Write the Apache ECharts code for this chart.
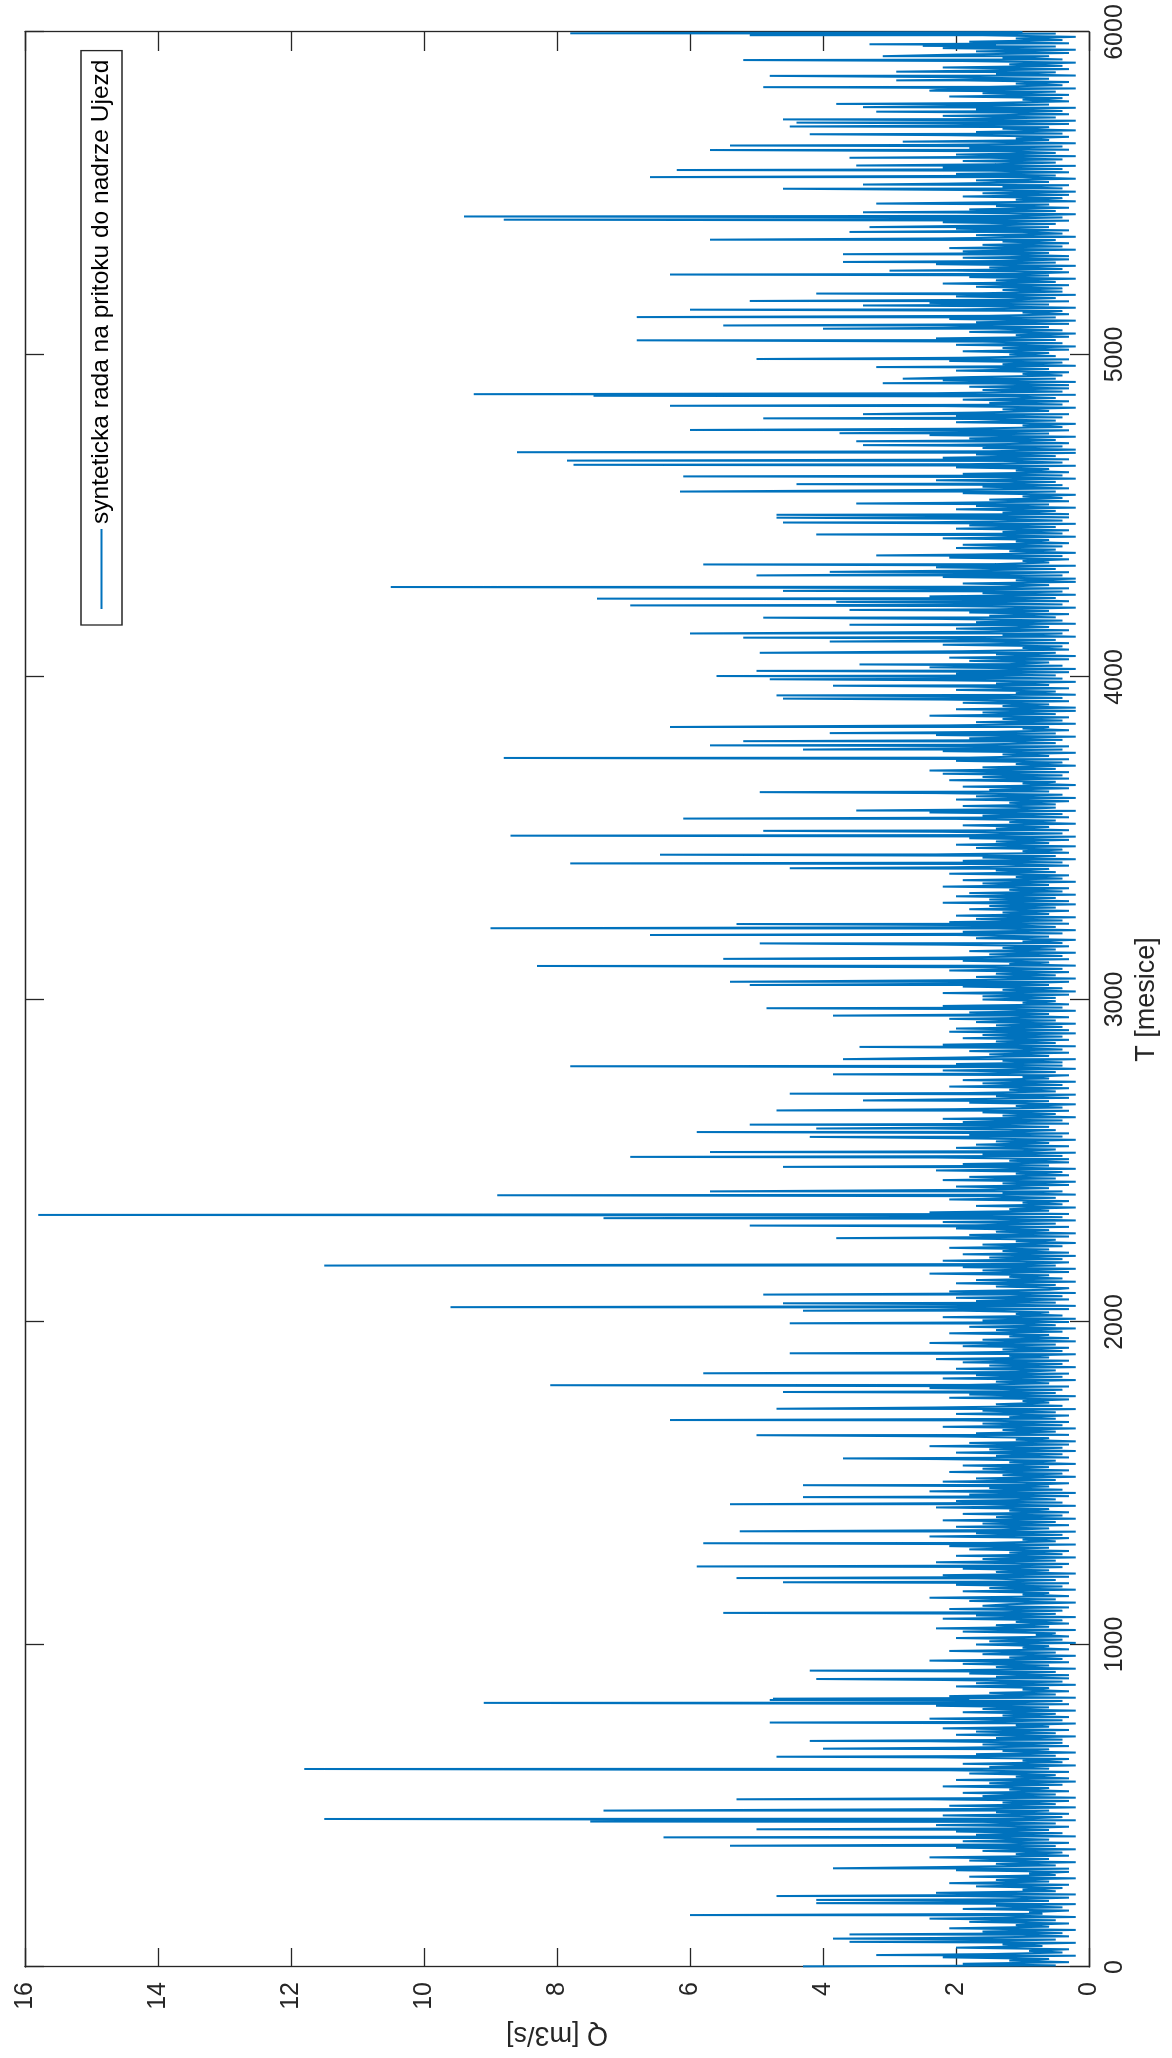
<!DOCTYPE html>
<html>
<head>
<meta charset="utf-8">
<script src="https://cdn.jsdelivr.net/npm/echarts@6/dist/echarts.min.js"></script>
<style>
  html, body { margin: 0; padding: 0; background: #fff; overflow: hidden; }
  body { width: 1172px; height: 2058px; position: relative; }
  /* the figure is laid out landscape and turned a quarter turn counter-clockwise */
  #chart {
    position: absolute; left: 0; top: 0;
    width: 2058px; height: 1172px;
    transform-origin: 0 0;
    transform: translate(0, 2058px) rotate(-90deg);
  }
</style>
</head>
<body>
<div id="chart"></div>
<script>
// Axis ticks
const tTicks = [0, 1000, 2000, 3000, 4000, 5000, 6000];
const qTicks = [0, 2, 4, 6, 8, 10, 12, 14, 16];

// Month step of the background flow record
const baseStep = 5;

// Background monthly flow Q [m3/s], one row per 100 months (every 5th month)
const baseFlow = [
  0.5,1.9,0.3,1.2,0.6,2.2,0.2,1.5,0.4,0.9,0.3,2.0,0.7,1.3,0.2,1.7,0.5,2.3,0.3,1.0,
  0.4,1.6,0.2,2.1,0.6,1.1,0.3,1.8,0.5,2.4,0.2,1.3,0.7,0.9,0.3,1.9,0.4,1.4,0.2,2.2,
  0.6,1.2,0.3,1.9,0.2,2.3,0.5,1.0,0.4,1.7,0.3,2.1,0.6,1.4,0.2,1.8,0.5,0.9,0.3,2.0,
  0.3,2.2,0.5,1.4,0.2,1.8,0.6,2.4,0.3,1.1,0.4,1.6,0.2,2.0,0.5,1.3,0.3,1.9,0.6,1.5,
  0.2,1.7,0.4,2.0,0.6,1.2,0.3,2.3,0.5,1.6,0.2,1.0,0.4,2.2,0.3,1.4,0.6,1.8,0.2,2.1,
  0.5,1.3,0.3,2.4,0.2,1.6,0.5,1.9,0.3,1.2,0.6,2.2,0.4,1.5,0.2,2.0,0.3,1.1,0.5,1.8,
  0.3,2.1,0.6,1.5,0.2,1.9,0.4,1.0,0.3,2.3,0.5,1.7,0.2,1.3,0.6,2.0,0.3,1.6,0.4,2.4,
  0.4,1.4,0.2,2.0,0.5,1.7,0.3,2.2,0.6,1.1,0.2,1.8,0.4,2.4,0.3,1.3,0.5,1.9,0.2,1.6,
  0.6,2.3,0.3,1.2,0.4,1.8,0.2,2.1,0.5,1.5,0.3,1.0,0.6,2.0,0.2,1.7,0.4,2.2,0.3,1.4,
  0.3,1.8,0.5,2.2,0.2,1.4,0.6,1.9,0.3,2.4,0.4,1.2,0.2,1.6,0.5,2.1,0.3,1.0,0.6,1.7,
  0.2,1.5,0.4,2.0,0.3,0.8,0.5,1.9,0.2,2.3,0.6,1.4,0.3,1.1,0.4,2.2,0.2,1.7,0.5,1.3,
  0.4,2.1,0.3,1.6,1.2,0.2,1.8,0.5,2.4,0.3,1.0,0.6,1.9,0.2,1.5,0.4,2.0,0.3,1.3,0.5,
  1.7,0.3,2.2,0.2,1.4,0.6,1.9,0.4,1.1,0.3,2.3,0.5,1.6,0.2,2.0,0.4,1.2,0.3,1.8,0.6,
  2.1,0.2,1.5,0.5,1.0,0.3,2.4,0.4,1.7,0.2,1.3,0.6,2.0,0.3,1.6,0.5,2.2,0.2,1.4,0.4,
  1.9,0.3,1.2,0.6,2.3,0.2,1.6,0.4,2.0,0.5,1.1,0.3,1.8,0.2,2.4,0.4,1.5,0.6,1.0,0.3,
  2.2,0.5,1.7,0.2,1.3,0.4,2.1,0.3,1.6,0.6,1.9,0.2,1.2,0.5,2.3,0.3,1.4,0.4,2.0,0.2,
  1.5,0.4,2.4,0.3,1.8,0.2,1.1,0.6,2.0,0.3,1.7,0.5,1.3,0.2,2.2,0.4,1.6,0.3,1.9,0.5,
  1.2,0.3,2.0,0.5,1.6,0.2,2.3,0.4,1.4,0.6,1.0,0.3,2.1,0.2,1.8,0.5,1.3,0.4,2.4,0.3,
  1.8,0.6,1.4,0.2,2.2,0.4,1.7,0.3,1.1,0.5,2.0,0.2,1.5,0.4,1.9,0.3,2.3,0.6,1.2,0.2,
  2.0,0.4,1.3,0.3,1.9,0.5,2.4,0.2,1.6,0.3,1.2,0.6,2.1,0.4,1.4,0.2,1.8,0.5,1.0,0.3,
  1.6,0.2,2.2,0.4,1.1,0.6,1.9,0.3,2.3,0.2,1.5,0.5,1.7,0.3,2.0,0.4,1.2,0.2,2.1,0.6,
  0.3,1.4,0.5,2.0,0.2,1.7,0.4,1.2,0.6,2.4,0.3,1.6,0.2,1.9,0.5,1.0,0.3,2.2,0.4,1.5,
  0.2,1.9,0.3,1.3,0.6,2.1,0.4,1.6,0.2,1.1,0.5,2.3,0.3,1.8,0.2,1.4,0.6,2.0,0.3,1.7,
  0.5,2.2,0.2,1.5,0.4,1.9,0.3,2.4,0.6,1.2,0.2,1.7,0.4,1.0,0.3,2.1,0.5,1.6,0.2,1.3,
  0.4,1.7,0.6,2.0,0.3,1.3,0.2,2.2,0.5,1.8,0.3,1.1,0.4,2.3,0.2,1.5,0.6,1.9,0.3,1.2,
  0.3,2.3,0.4,1.6,0.2,1.0,0.5,2.0,0.3,1.7,0.6,1.4,0.2,2.1,0.4,1.8,0.3,1.2,0.5,2.4,
  0.6,1.5,0.3,1.9,0.4,2.2,0.2,1.3,0.5,1.6,0.3,2.0,0.4,1.1,0.2,1.8,0.6,2.3,0.3,1.4,
  0.2,1.8,0.5,1.2,0.3,2.1,0.4,1.6,0.2,1.9,0.6,1.0,0.3,1.7,0.5,2.2,0.2,1.3,0.4,2.0,
  0.4,1.3,0.2,2.0,0.6,1.5,0.3,1.8,0.4,1.1,0.2,2.2,0.5,1.4,0.3,1.9,0.4,1.6,0.2,2.1,
  0.3,2.0,0.4,1.4,0.2,1.7,0.5,2.1,0.3,1.2,0.6,1.8,0.2,1.5,0.4,2.2,0.3,1.0,0.5,1.6,
  0.5,1.6,0.3,2.2,0.2,1.3,0.4,1.9,0.6,1.1,0.3,2.0,0.2,1.7,0.5,1.4,0.3,2.1,0.4,1.8,
  0.2,1.2,0.6,1.9,0.3,2.1,0.4,1.5,0.2,1.8,0.5,1.3,0.3,2.2,0.4,1.0,0.2,1.7,0.6,2.0,
  0.4,1.9,0.2,1.4,0.5,1.1,0.3,2.1,0.4,1.7,0.2,2.0,0.6,1.3,0.3,1.8,0.5,1.5,0.2,2.2,
  0.3,1.5,0.5,2.0,0.2,1.8,0.4,1.2,0.3,2.2,0.6,1.6,0.2,1.9,0.4,1.1,0.3,2.1,0.5,1.4,
  0.6,2.1,0.3,1.3,0.4,1.9,0.2,1.6,0.5,2.3,0.3,1.0,0.4,1.7,0.2,2.0,0.6,1.4,0.3,1.8,
  0.2,1.7,0.4,2.2,0.3,1.4,0.6,1.9,0.2,1.2,0.5,2.0,0.3,1.6,0.4,2.4,0.2,1.1,0.5,1.9,
  0.5,1.2,0.3,2.0,0.2,1.7,0.4,2.3,0.6,1.5,0.3,1.9,0.2,1.0,0.5,2.1,0.3,1.6,0.4,2.2,
  0.3,2.4,0.5,1.6,0.2,1.1,0.4,2.0,0.3,1.8,0.6,1.3,0.2,2.2,0.4,1.5,0.3,1.9,0.5,1.2,
  0.4,1.8,0.2,2.3,0.5,1.4,0.3,1.0,0.6,2.1,0.2,1.7,0.4,1.3,0.3,2.4,0.5,1.6,0.2,2.0,
  0.2,1.3,0.6,1.9,0.3,2.2,0.4,1.6,0.2,1.1,0.5,2.0,0.3,1.8,0.6,1.4,0.2,2.3,0.4,1.7,
  0.5,2.0,0.3,1.5,0.2,2.4,0.4,1.2,0.6,1.8,0.3,2.1,0.2,1.4,0.5,1.9,0.3,1.0,0.4,2.2,
  0.3,1.6,0.5,2.3,0.2,1.3,0.4,1.9,0.3,2.0,0.6,1.1,0.2,1.7,0.4,2.2,0.5,1.5,0.3,1.8,
  0.6,1.4,0.2,2.1,0.4,1.7,0.3,1.2,0.5,2.4,0.2,1.6,0.4,2.0,0.3,1.3,0.6,1.9,0.2,1.1,
  0.2,2.2,0.4,1.5,0.3,1.9,0.5,2.3,0.2,1.4,0.6,1.0,0.3,2.1,0.4,1.7,0.2,1.2,0.5,2.0,
  0.4,1.9,0.3,1.1,0.6,2.2,0.2,1.6,0.4,1.3,0.3,2.0,0.5,1.8,0.2,2.4,0.4,1.4,0.3,1.7,
  0.3,1.3,0.5,2.0,0.2,1.7,0.6,2.2,0.3,1.5,0.4,1.0,0.2,1.9,0.5,2.3,0.3,1.6,0.4,1.2,
  0.5,2.3,0.2,1.4,0.4,1.9,0.3,1.1,0.6,2.0,0.2,1.8,0.4,1.3,0.3,2.2,0.5,1.7,0.2,1.5,
  0.2,1.6,0.4,2.1,0.3,1.2,0.5,1.8,0.2,2.4,0.6,1.4,0.3,1.9,0.4,1.0,0.2,2.0,0.5,1.7,
  0.4,2.0,0.3,1.7,0.6,1.3,0.2,2.2,0.4,1.5,0.3,1.9,0.5,1.1,0.2,2.3,0.4,1.6,0.3,1.8,
  0.3,1.4,0.2,2.2,0.5,1.8,0.4,1.0,0.3,2.0,0.6,1.6,0.2,1.3,0.4,2.1,0.3,1.9,0.5,1.2,
  0.6,1.9,0.3,1.3,0.2,2.0,0.4,1.6,0.5,2.3,0.3,1.1,0.2,1.8,0.4,1.4,0.6,2.2,0.3,1.7,
  0.2,2.1,0.5,1.5,0.3,1.0,0.4,1.9,0.2,1.7,0.6,2.4,0.3,1.2,0.5,2.0,0.2,1.6,0.4,1.3,
  0.4,1.7,0.3,2.2,0.5,1.4,0.2,1.8,0.6,1.1,0.3,2.0,0.4,1.5,0.2,2.3,0.5,1.3,0.3,1.9,
  0.3,1.2,0.6,1.9,0.2,2.1,0.4,1.6,0.3,1.3,0.5,2.2,0.2,1.7,0.4,1.0,0.3,2.0,0.6,1.5,
  0.5,2.2,0.3,1.6,0.4,1.2,0.2,2.0,0.5,1.8,0.3,1.4,0.6,2.3,0.2,1.1,0.4,1.9,0.3,1.6,
  0.2,1.8,0.4,1.3,0.3,2.1,0.6,1.7,0.2,1.0,0.5,2.0,0.3,1.5,0.4,2.2,0.2,1.4,0.5,1.9,
  0.4,1.5,0.2,2.0,0.5,1.2,0.3,1.8,0.4,2.3,0.2,1.6,0.6,1.1,0.3,2.1,0.4,1.7,0.2,1.3,
  0.6,2.0,0.3,1.4,0.2,1.9,0.5,2.2,0.3,1.2,0.4,1.7,0.2,2.0,0.6,1.5,0.3,1.0,0.4,2.1,
  0.3,1.6,0.5,2.3,0.2,1.5,0.4,1.1,0.3,1.9,0.6,2.1,0.2,1.4,0.5,1.8,0.3,2.2,0.4,1.2,
  0.2,1.9,0.4,1.3,0.6,2.0,0.3,1.7,0.2,2.2,0.5,1.4,0.3,1.8,0.4,1.1,0.2,1.6,0.5,1.0
];

// Flood months: month index and flow Q [m3/s]
const peakMonth = [
  2,37,78,88,101,161,198,208,220,306,376,402,427,451,459,485,520,614,652,677,
  701,758,819,828,832,893,919,1098,1193,1206,1242,1314,1351,1435,1457,1494,1577,1649,1696,1731,
  1783,1804,1841,1903,1996,2035,2046,2058,2085,2175,2260,2299,2322,2332,2393,2405,2481,2512,2527,2574,
  2589,2600,2612,2656,2687,2708,2768,2793,2815,2853,2950,2973,3045,3055,3104,3126,3174,3200,3221,3234,
  3407,3422,3449,3508,3523,3561,3586,3643,3749,3775,3788,3801,3826,3845,3933,3943,3973,3993,4003,4019,
  4039,4075,4110,4122,4135,4162,4184,4208,4222,4233,4243,4267,4279,4315,4326,4349,4377,4442,4479,4494,
  4503,4538,4575,4598,4622,4658,4671,4697,4719,4731,4756,4766,4802,4815,4841,4872,4877,4911,4925,4961,
  4986,5044,5080,5090,5116,5139,5152,5166,5189,5248,5260,5287,5311,5356,5380,5395,5418,5428,5441,5468,
  5514,5527,5550,5572,5586,5610,5634,5648,5660,5683,5707,5719,5729,5753,5767,5777,5818,5829,5850,5864,
  5877,5913,5925,5957,5962,5990,5996
];
const peakFlow = [
  4.3,3.2,3.6,3.85,3.6,6.0,4.1,4.1,4.7,3.85,5.4,6.4,5.0,7.5,11.5,7.3,5.3,11.8,4.7,4.0,
  4.2,4.8,9.1,4.8,4.75,4.1,4.2,5.5,4.6,5.3,5.9,5.8,5.25,5.4,4.3,4.3,3.7,5.0,6.3,4.7,
  4.6,8.1,5.8,4.5,4.5,4.3,9.6,4.6,4.9,11.5,3.8,5.1,7.3,15.8,8.9,5.7,4.6,6.9,5.7,4.2,
  5.9,4.1,5.1,4.7,3.4,4.5,3.85,7.8,3.7,3.45,3.85,4.85,5.1,5.4,8.3,5.5,4.95,6.6,9.0,5.3,
  4.5,7.8,6.45,8.7,4.9,6.1,3.5,4.95,8.8,4.3,5.7,5.2,3.9,6.3,4.6,4.7,3.85,4.8,5.6,5.0,
  3.45,4.95,3.9,5.2,6.0,3.6,4.9,3.6,6.9,3.8,7.4,4.6,10.5,5.0,3.9,5.8,3.2,4.1,4.6,4.7,
  4.7,3.5,6.15,4.4,6.1,7.75,7.85,8.6,3.4,3.5,3.75,6.0,4.9,3.4,6.3,7.45,9.25,3.1,2.8,3.2,
  5.0,6.8,4.0,5.5,6.8,6.0,3.4,5.1,4.1,6.3,3.0,3.7,3.7,5.7,3.6,3.3,8.8,9.4,3.4,3.2,
  4.6,3.4,6.6,6.2,3.5,3.6,5.7,5.4,2.8,4.2,4.5,4.4,4.6,3.2,3.4,3.8,2.4,4.9,2.9,4.8,
  2.9,5.2,3.1,2.5,3.3,5.1,7.8
];

// Merge background record and flood months into one time-ordered series
const series = baseFlow.map((q, i) => [(i + 1) * baseStep, q])
  .concat(peakMonth.map((t, i) => [t, peakFlow[i]]))
  .sort((a, b) => a[0] - b[0]);

const ink = '#262626';
const font = "'Liberation Sans', Arial, Helvetica, sans-serif";
const plain = v => String(v);

const chart = echarts.init(document.getElementById('chart'), null, {
  renderer: 'canvas', width: 2058, height: 1172
});

const frameLine = { show: true, onZero: false, lineStyle: { color: ink, width: 1.3 } };
const frameTick = { show: true, inside: true, length: 19, lineStyle: { color: ink, width: 1.3 } };

const tAxisBase = {
  type: 'value', min: tTicks[0], max: tTicks[tTicks.length - 1], interval: tTicks[1] - tTicks[0],
  splitLine: { show: false }, axisLine: frameLine, axisTick: frameTick
};
const qAxisBase = {
  type: 'value', min: qTicks[0], max: qTicks[qTicks.length - 1], interval: qTicks[1] - qTicks[0],
  splitLine: { show: false }, axisLine: frameLine, axisTick: frameTick
};

chart.setOption({
  animation: false,
  backgroundColor: '#ffffff',
  grid: { left: 91, right: 32, top: 25, bottom: 83, containLabel: false },
  legend: {
    data: ['synteticka rada na pritoku do nadrze Ujezd'],
    left: 1433, top: 81,
    padding: [8, 9, 8, 16],
    itemWidth: 80, itemHeight: 2, icon: 'rect',
    borderColor: ink, borderWidth: 1.3, backgroundColor: '#ffffff',
    textStyle: { fontFamily: font, fontSize: 24.5, color: '#000' },
    selectedMode: false
  },
  xAxis: [
    Object.assign({}, tAxisBase, {
      position: 'bottom',
      name: 'T [mesice]', nameLocation: 'middle', nameGap: 37,
      nameTextStyle: { fontFamily: font, fontSize: 27, color: ink },
      axisLabel: { fontFamily: font, fontSize: 25, color: ink, margin: 14, formatter: plain }
    }),
    Object.assign({}, tAxisBase, { position: 'top', axisLabel: { show: false } })
  ],
  yAxis: [
    Object.assign({}, qAxisBase, {
      position: 'left',
      name: 'Q [m3/s]', nameLocation: 'middle', nameGap: 52,
      nameTextStyle: { fontFamily: font, fontSize: 27, color: ink },
      axisLabel: { fontFamily: font, fontSize: 25, color: ink, margin: 15, formatter: plain }
    }),
    Object.assign({}, qAxisBase, { position: 'right', axisLabel: { show: false } })
  ],
  series: [{
    name: 'synteticka rada na pritoku do nadrze Ujezd',
    type: 'line',
    xAxisIndex: 0, yAxisIndex: 0,
    data: series,
    showSymbol: false, symbol: 'none',
    sampling: null,
    color: '#0072BD',
    lineStyle: { color: '#0072BD', width: 2, join: 'bevel' },
    emphasis: { disabled: true }
  }]
});
</script>
</body>
</html>
